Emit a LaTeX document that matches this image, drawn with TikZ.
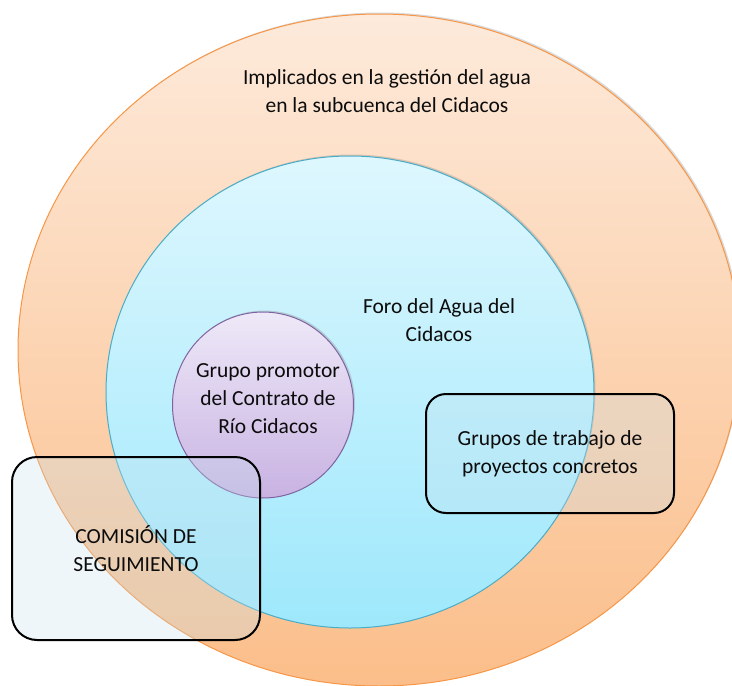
\documentclass[tikz,border=0pt]{standalone}
\usepackage{fontspec}
\setmainfont{Carlito}
\usetikzlibrary{shapes.geometric,shadows}
\definecolor{orTop}{RGB}{253,234,219}
\definecolor{orBot}{RGB}{251,190,138}
\definecolor{orLine}{RGB}{247,150,70}
\definecolor{cyTop}{RGB}{222,247,254}
\definecolor{cyBot}{RGB}{158,232,252}
\definecolor{cyLine}{RGB}{75,172,198}
\definecolor{puTop}{RGB}{238,233,248}
\definecolor{puBot}{RGB}{200,178,226}
\definecolor{puLine}{RGB}{128,100,162}
\definecolor{boxFill}{RGB}{198,225,238}
\definecolor{txt}{RGB}{12,12,12}
\begin{document}
\begin{tikzpicture}[x=1pt,y=-1pt,
  ring/.style={ellipse, inner sep=0pt, line width=1pt,
    drop shadow={shadow xshift=1.5pt, shadow yshift=1.5pt, opacity=0.3}},
  lbl/.style={align=center, text=txt, font=\fontsize{21.5}{28}\selectfont, inner sep=0pt},
  panel/.style={draw=black, line width=2pt, fill=boxFill, fill opacity=0.3,
    text opacity=1, inner sep=0pt, align=center, text=txt,
    font=\fontsize{21.5}{28}\selectfont}]
\useasboundingbox (0,0) rectangle (732,686);
\node[ring, draw=orLine, top color=orTop, bottom color=orBot,
  minimum width=722pt, minimum height=672pt] (outer) at (379,350) {};
\node[ring, draw=cyLine, top color=cyTop, bottom color=cyBot,
  minimum width=488pt, minimum height=472pt] (foro) at (350,392) {};
\node[ring, draw=puLine, top color=puTop, bottom color=puBot,
  minimum width=181pt, minimum height=186pt] (promotor) at (263,405) {};
\node[lbl] (tOuter) at (387,91) {Implicados en la gestión del agua\\en la subcuenca del Cidacos};
\node[lbl] (tForo) at (439,320) {Foro del Agua del\\Cidacos};
\node[lbl] (tPromotor) at (268,399) {Grupo promotor\\del Contrato de\\Río Cidacos};
\node[panel, rounded corners=25pt, minimum width=248pt, minimum height=183pt]
  (comision) at (136,548.5) {COMISIÓN DE\\SEGUIMIENTO};
\node[panel, rounded corners=20pt, minimum width=248pt, minimum height=119pt]
  (grupos) at (550,453.5) {Grupos de trabajo de\\proyectos concretos};
\end{tikzpicture}
\end{document}
